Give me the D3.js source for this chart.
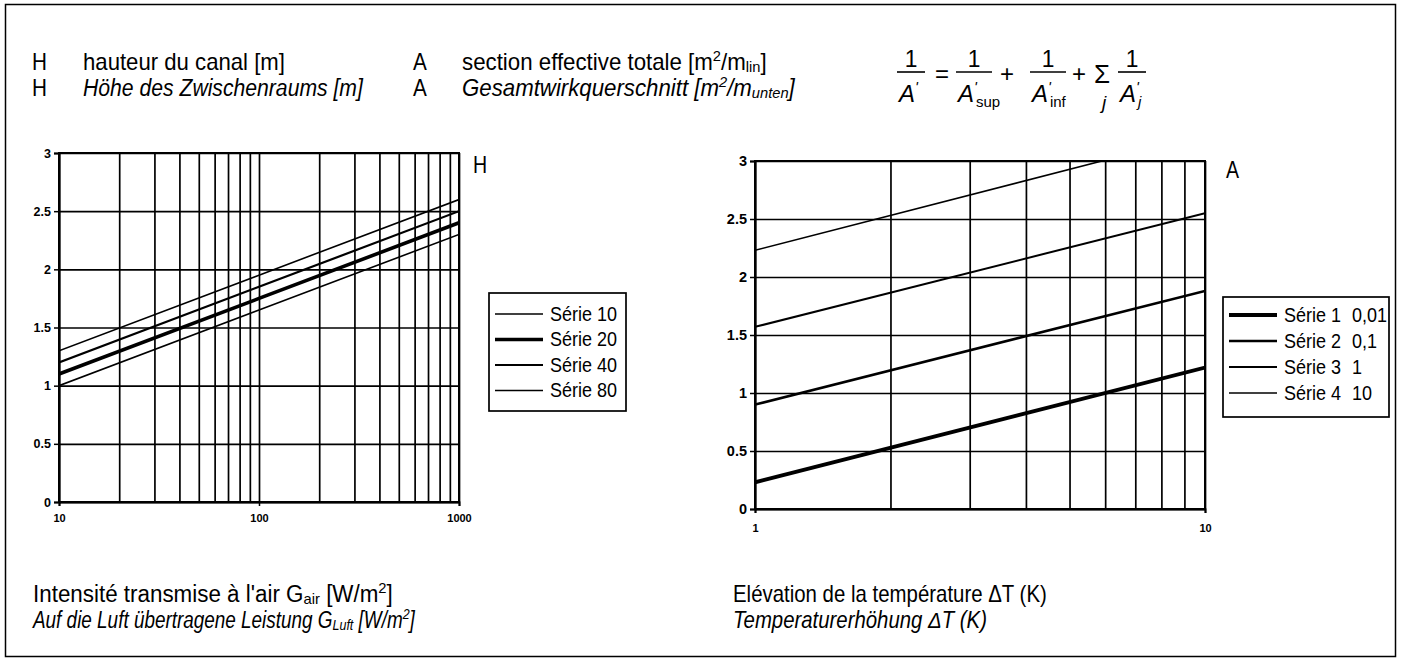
<!DOCTYPE html>
<html><head><meta charset="utf-8">
<script src="https://cdn.jsdelivr.net/npm/d3@7/dist/d3.min.js"></script>
<style>
html,body{margin:0;padding:0;background:#fff;}
svg{display:block;}
.nar{font-family:"Liberation Sans",Arial,sans-serif;}
.tick text{font-family:"Liberation Sans",Arial,sans-serif;font-weight:bold;}
</style></head>
<body>
<svg id="c" width="1409" height="665"></svg>
<script>
// ---------- data ----------
const leftSeries = ["Série 10", "Série 20", "Série 40", "Série 80"];
const leftX = [10, 100, 1000];
const leftValues = [
  [1.0, 1.65, 2.3],
  [1.1, 1.75, 2.4],
  [1.2, 1.85, 2.5],
  [1.3, 1.95, 2.6]
];
const leftXTicks = [10, 100, 1000];
const leftYTicks = [0, 0.5, 1, 1.5, 2, 2.5, 3];

const rightSeries = ["Série 1", "Série 2", "Série 3", "Série 4"];
const rightSeriesA = ["0,01", "0,1", "1", "10"];
const rightX = [[1, 10], [1, 10], [1, 10], [1, 5.9]];
const rightValues = [
  [0.23, 1.22],
  [0.9, 1.88],
  [1.57, 2.55],
  [2.23, 3.0]
];
const rightXTicks = [1, 10];
const rightYTicks = [0, 0.5, 1, 1.5, 2, 2.5, 3];

// ---------- styles ----------
const leftWidths = [1.6, 3.6, 2.2, 1.6];
const rightWidths = [3.8, 2.6, 2.0, 1.6];

const svg = d3.select("#c");

// outer frame
svg.append("rect").attr("x", 5.5).attr("y", 4.5).attr("width", 1390).attr("height", 652)
  .attr("fill", "none").attr("stroke", "#000").attr("stroke-width", 1.5);

// text helper: condensed via horizontal scaling
function txt(x, y, parts, opts = {}) {
  const size = opts.size || 23;
  const g = svg.append("g");
  const t = g.append("text").attr("class", "nar").attr("x", 0).attr("y", y)
    .attr("font-size", size).attr("fill", "#000");
  if (opts.italic) t.attr("font-style", "italic");
  parts.forEach(p => {
    if (typeof p === "string") t.append("tspan").text(p);
    else {
      const s = t.append("tspan").text(p.t).attr("font-size", size * 0.66);
      if (p.sup) s.attr("baseline-shift", "60%");
      if (p.sub) s.attr("baseline-shift", "-12%");
    }
  });
  const nat = t.node().getComputedTextLength();
  const target = opts.width || nat * (opts.cond || 0.9);
  const sx = target / nat;
  let ox = x;
  if (opts.anchor === "middle") ox = x - target / 2;
  g.attr("transform", `translate(${ox},0) scale(${sx},1)`);
  return t;
}

// ---------- header ----------
txt(32, 70, ["H"]);
txt(83, 70, ["hauteur du canal [m]"], {width: 202});
txt(413, 70, ["A"]);
txt(462, 70, ["section effective totale [m", {t: "2", sup: 1}, "/m", {t: "lin", sub: 1}, "]"], {width: 305});
txt(32, 96, ["H"]);
txt(83, 96, ["Höhe des Zwischenraums [m]"], {italic: 1, width: 280});
txt(413, 96, ["A"]);
txt(462, 96, ["Gesamtwirkquerschnitt [m", {t: "2", sup: 1}, "/m", {t: "unten", sub: 1}, "]"], {italic: 1, width: 333});

// formula
function frac(cx, w, sub) {
  txt(cx, 67, ["1"], {size: 24, cond: 0.95, anchor: "middle"});
  svg.append("line").attr("x1", cx - w / 2).attr("x2", cx + w / 2).attr("y1", 72).attr("y2", 72)
    .attr("stroke", "#000").attr("stroke-width", 1.6);
  const t = svg.append("text").attr("class", "nar").attr("x", cx - w / 2 + 2).attr("y", 102)
    .attr("font-size", 24).attr("font-style", "italic");
  t.append("tspan").text("A");
  t.append("tspan").text("'").attr("font-size", 15).attr("dx", 0).attr("dy", -10);
  if (sub) t.append("tspan").text(sub).attr("font-size", 15)
    .attr("font-style", sub === "j" ? "italic" : "normal").attr("dx", -1).attr("dy", 15);
}
frac(911, 28, null);
txt(935, 82, ["="], {size: 24, cond: 1});
frac(974, 36, "sup");
txt(1000, 82, ["+"], {size: 24, cond: 1});
frac(1048, 36, "inf");
txt(1072, 82, ["+"], {size: 24, cond: 1});
txt(1094, 83, ["Σ"], {size: 26, cond: 1});
txt(1102, 109, ["j"], {size: 19, italic: 1, cond: 1});
frac(1132, 28, "j");

// ---------- chart builder ----------
function chart(cfg) {
  const x = d3.scaleLog().domain(cfg.xDomain).range([cfg.x0, cfg.x1]);
  const y = d3.scaleLinear().domain([0, 3]).range([cfg.y0, cfg.y1]);
  const g = svg.append("g");
  const h = cfg.y0 - cfg.y1, w = cfg.x1 - cfg.x0;

  const minor = x.ticks();
  g.append("g").attr("transform", `translate(0,${cfg.y0})`)
    .call(d3.axisBottom(x).tickValues(minor).tickSize(-h).tickFormat(""))
    .call(s => s.select(".domain").remove())
    .call(s => s.selectAll("line").attr("stroke", "#000").attr("stroke-width", 1.7));
  g.append("g").attr("transform", `translate(${cfg.x0},0)`)
    .call(d3.axisLeft(y).tickValues(cfg.yTicks).tickSize(-w).tickFormat(""))
    .call(s => s.select(".domain").remove())
    .call(s => s.selectAll("line").attr("stroke", "#000").attr("stroke-width", 1.7));
  g.append("g").attr("transform", `translate(${cfg.x0},0)`)
    .call(d3.axisLeft(y).tickValues(cfg.yTicks).tickSize(5).tickPadding(3).tickFormat(d3.format("")))
    .call(s => s.select(".domain").attr("stroke", "#000").attr("stroke-width", 2))
    .call(s => s.selectAll("line").attr("stroke", "#000").attr("stroke-width", 1.5))
    .call(s => s.selectAll("text").attr("font-size", cfg.ySize).attr("fill", "#000"));
  g.append("g").attr("transform", `translate(0,${cfg.y0})`)
    .call(d3.axisBottom(x).tickValues(cfg.xTicks).tickSize(4).tickPadding(cfg.xPad).tickFormat(d3.format("")))
    .call(s => s.select(".domain").attr("stroke", "#000").attr("stroke-width", 2))
    .call(s => s.selectAll("line").attr("stroke", "#000").attr("stroke-width", 1.5))
    .call(s => s.selectAll("text").attr("font-size", 11).attr("fill", "#000"));
  g.append("rect").attr("x", cfg.x0).attr("y", cfg.y1).attr("width", w).attr("height", h)
    .attr("fill", "none").attr("stroke", "#000").attr("stroke-width", 2);

  const cid = "clip" + cfg.id;
  svg.append("clipPath").attr("id", cid).append("rect")
    .attr("x", cfg.x0).attr("y", cfg.y1).attr("width", w).attr("height", h);
  const line = d3.line().x(d => x(d[0])).y(d => y(d[1]));
  cfg.values.forEach((vals, i) => {
    const xs = cfg.xs[i];
    g.append("path").attr("clip-path", `url(#${cid})`)
      .attr("d", line(vals.map((v, k) => [xs[k], v])))
      .attr("fill", "none").attr("stroke", "#000").attr("stroke-width", cfg.widths[i]);
  });

  txt(cfg.letterX, cfg.letterY, [cfg.letter], {size: 23, cond: 0.85});

  const L = cfg.legend;
  svg.append("rect").attr("x", L.x).attr("y", L.y).attr("width", L.w).attr("height", L.h)
    .attr("fill", "#fff").attr("stroke", "#000").attr("stroke-width", 1.7);
  cfg.names.forEach((n, i) => {
    const yy = L.y + L.first + i * L.step;
    svg.append("line").attr("x1", L.x + 6).attr("x2", L.x + 54).attr("y1", yy).attr("y2", yy)
      .attr("stroke", "#000").attr("stroke-width", cfg.widths[i]);
    txt(L.x + 61, yy + 7, [n], {size: 20, cond: 0.9});
    if (cfg.extra) txt(L.x + 129, yy + 7, [cfg.extra[i]], {size: 20, cond: 0.9});
  });
}

chart({
  id: "L", xDomain: [10, 1000], x0: 59, x1: 459, y0: 502, y1: 153,
  yTicks: leftYTicks, xTicks: leftXTicks, xPad: 8, ySize: 12.5,
  xs: leftValues.map(() => leftX), values: leftValues, widths: leftWidths,
  letter: "H", letterX: 473, letterY: 173,
  names: leftSeries,
  legend: {x: 489, y: 293, w: 137, h: 118, first: 21, step: 25.5}
});
chart({
  id: "R", xDomain: [1, 10], x0: 755, x1: 1205, y0: 509, y1: 161,
  yTicks: rightYTicks, xTicks: rightXTicks, xPad: 11, ySize: 14.5,
  xs: rightX, values: rightValues, widths: rightWidths,
  letter: "A", letterX: 1226, letterY: 178,
  names: rightSeries, extra: rightSeriesA,
  legend: {x: 1223, y: 297, w: 166, h: 120, first: 18, step: 26}
});

// ---------- bottom titles ----------
txt(33, 602, ["Intensité transmise à l'air G", {t: "air", sub: 1}, " [W/m", {t: "2", sup: 1}, "]"], {width: 360});
txt(33, 628, ["Auf die Luft übertragene Leistung G", {t: "Luft", sub: 1}, " [W/m", {t: "2", sup: 1}, "]"], {italic: 1, width: 382});
txt(733, 602, ["Elévation de la température ΔT (K)"], {width: 314});
txt(733, 628, ["Temperaturerhöhung ΔT (K)"], {italic: 1, width: 254});
</script>
</body></html>
